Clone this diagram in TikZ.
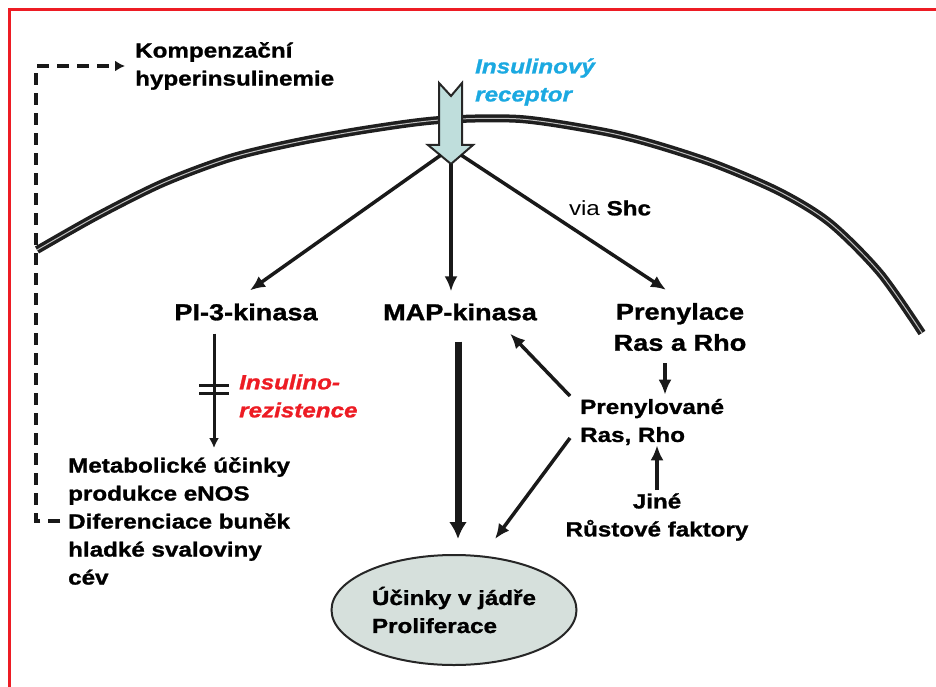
\documentclass[tikz,border=0pt]{standalone}
\usepackage{fontspec}
\setmainfont{Liberation Sans}[FakeStretch=1.18,
  BoldFeatures={FakeBold=1.2},BoldItalicFeatures={FakeBold=1.2}]
\usetikzlibrary{shapes,arrows.meta,positioning,calc}

\definecolor{framered}{HTML}{ED1C24}
\definecolor{recblue}{HTML}{1BA9E1}
\definecolor{recfill}{HTML}{BFDEDC}
\definecolor{nucfill}{HTML}{D6E0DC}

\begin{document}
\begin{tikzpicture}[x=1pt,y=-1pt,
    txt/.style={font=\fontsize{20.5}{28}\selectfont\bfseries,align=left,inner sep=0pt},
    recept/.style={txt,text=recblue,font=\fontsize{20.5}{28}\selectfont\bfseries\itshape},
    resist/.style={txt,text=framered,font=\fontsize{20.5}{28}\selectfont\bfseries\itshape},
    big/.style={font=\fontsize{23}{31}\selectfont\bfseries,align=center,inner sep=0pt},
    link/.style={black!90,line width=3.5pt,-{Latex[length=15pt,width=13pt]}},
    thinlink/.style={black!90,line width=3pt,-{Latex[length=10pt,width=10pt]}}]
  \useasboundingbox (0,0) rectangle (936,687);
  \draw[framered,line width=3pt] (9,687) -- (9,10) -- (936,10);

  % cell membrane
  \draw[black!88,line width=3.5pt,double=black!25,double distance=1pt]
    plot[smooth] coordinates {(37,250) (97,216) (163,183) (230,158) (297,142) (370,129) (440,120)
      (520,119) (600,131) (650,143) (715,164) (780,192) (830,223) (880,273) (922,333)};

  % receptor
  \draw[black!85,line width=2pt,fill=recfill,line join=miter]
    (439,83) -- (451,96) -- (462,83) -- (462,145) -- (473,145) -- (451,164) -- (428,145) -- (439,145) -- cycle;
  \coordinate (recL) at (441,155);
  \coordinate (recM) at (451,164);
  \coordinate (recR) at (461,155);

  \node[txt,anchor=west] (komp) at (135,66) {Kompenzační\\hyperinsulinemie};
  \node[recept,anchor=west] (rectext) at (475,82) {Insulinový\\receptor};
  \node[txt,font=\fontsize{20.5}{28}\selectfont] (via) at (610,208) {via \textbf{Shc}};
  \node[big] (pik) at (246,312) {PI-3-kinasa};
  \node[big] (map) at (460,312) {MAP-kinasa};
  \node[big] (pren) at (680,327) {Prenylace\\Ras a Rho};
  \node[resist,anchor=west] (ir) at (239,396) {Insulino-\\rezistence};
  \node[txt,anchor=west] (metab) at (68,521) {Metabolické účinky\\produkce eNOS\\Diferenciace buněk\\hladké svaloviny\\cév};
  \node[txt,anchor=west] (prenyl) at (580,422) {Prenylované\\Ras, Rho};
  \node[txt,align=center] (jine) at (657,517) {Jiné\\Růstové faktory};
  \node[txt,ellipse,draw=black!85,line width=2pt,fill=nucfill,minimum width=245pt,minimum height=110pt] (nucleus) at (454,610) {Účinky v jádře\\Proliferace};

  % from receptor
  \draw[link] (recL) -- ([xshift=4pt,yshift=13pt]pik.north);
  \draw[link,shorten >=12pt] (recM) -- (recM |- map.north);
  \draw[link] (recR) -- ([xshift=-14pt,yshift=13pt]pren.north);

  % blocked PI-3 pathway
  \coordinate (pikdown) at ([xshift=-32pt,yshift=-13pt]pik.south);
  \draw[thinlink,shorten >=9pt] (pikdown) -- (pikdown |- metab.north);
  \draw[black!90,line width=3pt] (199,385) -- (229,385) (199,393) -- (229,393);

  % MAP-kinasa to nucleus
  \coordinate (mapdown) at ([xshift=-2pt]map.south);
  \draw[black!90,line width=7pt,-{Latex[length=17pt,width=18pt]},shorten <=21pt,shorten >=15pt] (mapdown) -- (mapdown |- nucleus.north);

  % prenylation
  \draw[link] ([xshift=-10pt,yshift=26pt]prenyl.west) -- ([xshift=-27pt,yshift=-13pt]map.south east);
  \draw[link] ([xshift=-10pt,yshift=-16pt]prenyl.west) -- ($(nucleus.north)+(41,-15)$);
  \coordinate (prendown) at ([xshift=-15pt,yshift=-12pt]pren.south);
  \draw[link,shorten >=4pt] (prendown) -- (prendown |- prenyl.north);
  \coordinate (jineup) at ([yshift=3pt]jine.north);
  \draw[link] (jineup) -- (jineup |- prenyl.south);

  % feedback
  \draw[black!90,line width=3.5pt,dash pattern=on 12pt off 8pt,-{Latex[length=10pt,width=11pt]},shorten >=10pt]
    ([xshift=-8pt]metab.west) -- ++(-24,0) |- (komp.west);
\end{tikzpicture}
\end{document}
